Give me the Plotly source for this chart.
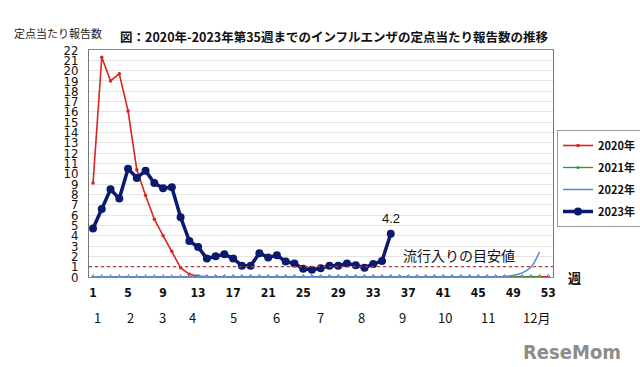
import plotly.graph_objects as go

weeks_2020 = list(range(1, 54))
weeks_2021 = list(range(1, 53))
weeks_2022 = list(range(1, 53))
weeks_2023 = list(range(1, 36))

vals_2020 = [9.1, 21.3, 19.0, 19.7, 16.1, 10.4, 7.9, 5.6, 4.0, 2.5, 0.9, 0.26, 0.1] + [0.03] * 40
vals_2021 = [0.02] * 52
vals_2022 = [0.03] * 47 + [0.06, 0.15, 0.4, 0.95, 2.45]
vals_2023 = [4.7, 6.6, 8.5, 7.6, 10.5, 9.6, 10.3, 9.1, 8.6, 8.7,
             5.8, 3.5, 2.9, 1.8, 2.0, 2.2, 1.8, 1.1, 1.1, 2.3,
             1.9, 2.1, 1.5, 1.3, 0.8, 0.7, 0.85, 1.1, 1.1, 1.3,
             1.15, 0.9, 1.25, 1.55, 4.2]

threshold = 1.0
threshold_label = "流行入りの目安値"

week_ticks = list(range(1, 54, 4))
month_labels = ["1", "2", "3", "4", "5", "6", "7", "8", "9", "10", "11", "12月"]
month_pos = [1.5, 5.3, 8.9, 12.4, 17.0, 21.9, 27.0, 31.7, 36.3, 41.2, 46.1, 51.7]

title_text = "図：2020年-2023年第35週までのインフルエンザの定点当たり報告数の推移"
ytitle_text = "定点当たり報告数"

CJK = "Noto Sans CJK JP"
NARROW = "DejaVu Sans Condensed, Liberation Sans Narrow, Arial Narrow, Liberation Sans, Arial"

fig = go.Figure()

fig.add_trace(go.Scatter(x=weeks_2020, y=vals_2020, name="2020年", mode="lines+markers",
                         line=dict(color="#d9241f", width=1.6), marker=dict(size=3.5, color="#d9241f"),
                         legendgroup="a"))
fig.add_trace(go.Scatter(x=weeks_2021, y=vals_2021, name="2021年", mode="lines+markers",
                         line=dict(color="#2e9a2e", width=1.3), marker=dict(size=3, color="#2e9a2e"),
                         legendgroup="b"))
fig.add_trace(go.Scatter(x=weeks_2022, y=vals_2022, name="2022年", mode="lines",
                         line=dict(color="#5b86c8", width=1.5, shape="spline"),
                         legendgroup="c"))
fig.add_trace(go.Scatter(x=weeks_2023, y=vals_2023, name="2023年", mode="lines+markers",
                         line=dict(color="#0b1a6e", width=3.5), marker=dict(size=8, color="#0b1a6e"),
                         legendgroup="d"))

# threshold line
fig.add_hline(y=threshold, line=dict(color="#c0392b", width=1.2, dash="dot"))
fig.add_annotation(x=42.8, y=threshold, yshift=12, text=threshold_label, showarrow=False,
                   font=dict(family=CJK, size=14, color="#111"), xref="x", yref="y")

# last value label
fig.add_annotation(x=weeks_2023[-1], y=vals_2023[-1], yshift=15, text=f"{vals_2023[-1]}",
                   showarrow=False, font=dict(family="Arial", size=13, color="#111"))

# month labels
for lab, pos in zip(month_labels, month_pos):
    fig.add_annotation(x=pos, y=0, yref="paper", yanchor="middle", yshift=-40, text=lab,
                       showarrow=False, font=dict(family=CJK, size=13, color="#111"))

# 週
fig.add_annotation(x=1.0, xref="paper", xanchor="left", xshift=13, y=0, yref="paper",
                   yanchor="middle", text="<b>週</b>", showarrow=False,
                   font=dict(family=CJK, size=13, color="#111"))

# title and y title
fig.add_annotation(x=(118 - 89) / 464, xref="paper", xanchor="left", y=1, yref="paper",
                   yanchor="middle", yshift=14, text="<b>" + title_text + "</b>", showarrow=False,
                   font=dict(family=CJK, size=12.5, color="#111"))
fig.add_annotation(x=(12 - 89) / 464, xref="paper", xanchor="left", y=1, yref="paper",
                   yanchor="middle", yshift=17, text=ytitle_text, showarrow=False,
                   font=dict(family=CJK, size=11, color="#222"))

# logo
fig.add_annotation(x=1.0, xref="paper", xanchor="right", xshift=70, y=0, yref="paper",
                   yanchor="middle", yshift=-75, text="<b>ReseMom</b>", showarrow=False,
                   font=dict(family=NARROW, size=20, color="#8c8c8c"))

fig.update_xaxes(range=[0.54, 53.53], tickmode="array", tickvals=week_ticks,
                 ticktext=[str(w) for w in week_ticks], ticks="", showgrid=False, zeroline=False,
                 showline=True, linecolor="#888", linewidth=1, mirror=True, automargin=False,
                 ticklabelstandoff=5,
                 tickfont=dict(family=NARROW, size=12, color="#111", weight="bold"),
                 minor=dict(tickvals=list(range(1, 54)), ticks="inside", ticklen=3,
                            tickcolor="#7a9ad0", tickwidth=1))
fig.update_yaxes(range=[0, 22], dtick=1, tick0=0, showgrid=True, gridcolor="#e4e4e4",
                 gridwidth=1, zeroline=False, showline=True, linecolor="#777", linewidth=1,
                 mirror=True, ticks="", automargin=False, ticklabelstandoff=7,
                 tickfont=dict(family=NARROW, size=13, color="#111"))

fig.update_layout(width=640, height=367, margin=dict(l=89, r=87, t=50, b=90, autoexpand=False),
                  paper_bgcolor="white", plot_bgcolor="white", showlegend=True,
                  legend=dict(x=(557 - 89) / 464, y=(277 - 130) / 227, xanchor="left",
                              yanchor="top", bordercolor="#999", borderwidth=1,
                              font=dict(family=CJK, size=11, color="#111", weight="bold"),
                              itemwidth=30, tracegroupgap=3, bgcolor="white"))

fig.write_html("out.html", config={"displayModeBar": False},
               post_script="document.body.style.margin='0';document.body.style.overflow='hidden';")
